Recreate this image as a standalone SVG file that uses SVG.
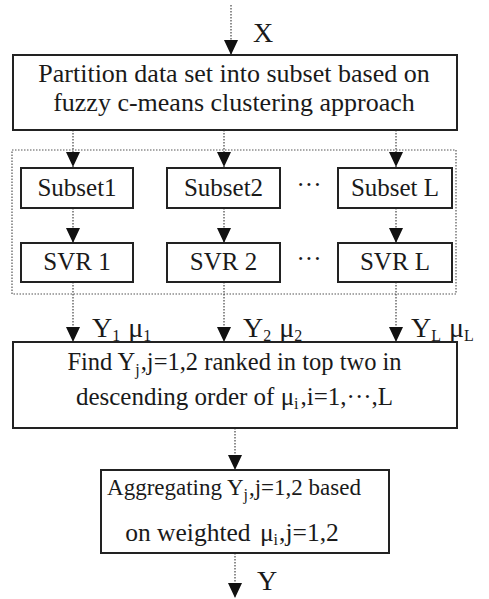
<svg xmlns="http://www.w3.org/2000/svg" width="489" height="599" viewBox="0 0 489 599">
  <style>
    .box { fill: #ffffff; stroke: #222222; stroke-width: 2; }
    .group { fill: none; stroke: #555555; stroke-width: 1.2; stroke-dasharray: 1.5 1.5; }
    .flow { fill: none; stroke: #444444; stroke-width: 1.2; stroke-dasharray: 1.5 1.5; }
    text { font-family: "Liberation Serif", "Times New Roman", serif; fill: #1a1a1a; }
    .t26 { font-size: 26px; }
    .t25 { font-size: 25px; }
    .lbl { font-size: 28px; }
    .sub { font-size: 16px; }
  </style>
  <defs>
    <marker id="arrow" viewBox="0 0 15 14" refX="15" refY="7" markerWidth="15" markerHeight="14" markerUnits="userSpaceOnUse" orient="auto">
      <path d="M0,0 L15,7 L0,14 z" fill="#111111"/>
    </marker>
  </defs>

  <!-- dotted frame around the subset / SVR stage -->
  <rect class="group" x="12" y="150" width="444" height="144"/>

  <!-- connectors -->
  <g id="connectors">
    <line class="flow" x1="231" y1="5" x2="231" y2="55" marker-end="url(#arrow)"/>
    <line class="flow" x1="73" y1="130" x2="73" y2="167" marker-end="url(#arrow)"/>
    <line class="flow" x1="224" y1="130" x2="224" y2="167" marker-end="url(#arrow)"/>
    <line class="flow" x1="396" y1="130" x2="396" y2="167" marker-end="url(#arrow)"/>
    <line class="flow" x1="73" y1="208" x2="73" y2="243" marker-end="url(#arrow)"/>
    <line class="flow" x1="224" y1="208" x2="224" y2="243" marker-end="url(#arrow)"/>
    <line class="flow" x1="396" y1="208" x2="396" y2="243" marker-end="url(#arrow)"/>
    <line class="flow" x1="73" y1="282" x2="73" y2="342" marker-end="url(#arrow)"/>
    <line class="flow" x1="224" y1="282" x2="224" y2="342" marker-end="url(#arrow)"/>
    <line class="flow" x1="396" y1="282" x2="396" y2="342" marker-end="url(#arrow)"/>
    <line class="flow" x1="235" y1="428" x2="235" y2="470" marker-end="url(#arrow)"/>
    <line class="flow" x1="235" y1="553" x2="235" y2="598" marker-end="url(#arrow)"/>
    <text class="lbl" x="253" y="42">X</text>
    <text class="lbl" x="92" y="337">Y<tspan class="sub" dy="4">1</tspan><tspan dx="8" dy="-4">μ</tspan><tspan class="sub" dy="4">1</tspan></text>
    <text class="lbl" x="243" y="337">Y<tspan class="sub" dy="4">2</tspan><tspan dx="8" dy="-4">μ</tspan><tspan class="sub" dy="4">2</tspan></text>
    <text class="lbl" x="411" y="337">Y<tspan class="sub" dy="4">L</tspan><tspan dx="8" dy="-4">μ</tspan><tspan class="sub" dy="4">L</tspan></text>
    <text class="lbl" x="257" y="590">Y</text>
  </g>

  <g id="partition">
    <rect class="box" x="13" y="55" width="444" height="75"/>
    <text class="t26" x="234" y="82" text-anchor="middle">Partition data set into subset based on</text>
    <text class="t26" x="234" y="111" text-anchor="middle">fuzzy c-means clustering approach</text>
  </g>

  <g id="subset1">
    <rect class="box" x="21" y="168" width="112" height="40"/>
    <text class="t25" x="77" y="196" text-anchor="middle">Subset1</text>
  </g>
  <g id="subset2">
    <rect class="box" x="167" y="168" width="113" height="40"/>
    <text class="t25" x="223.5" y="196" text-anchor="middle">Subset2</text>
  </g>
  <g id="subsetL">
    <rect class="box" x="338" y="168" width="114" height="40"/>
    <text class="t25" x="395" y="196" text-anchor="middle">Subset L</text>
  </g>
  <text class="t25" x="309" y="193" text-anchor="middle">···</text>

  <g id="svr1">
    <rect class="box" x="21" y="243" width="112" height="39"/>
    <text class="t25" x="77" y="270" text-anchor="middle">SVR 1</text>
  </g>
  <g id="svr2">
    <rect class="box" x="167" y="243" width="113" height="39"/>
    <text class="t25" x="223.5" y="270" text-anchor="middle">SVR 2</text>
  </g>
  <g id="svrL">
    <rect class="box" x="338" y="243" width="114" height="39"/>
    <text class="t25" x="395" y="270" text-anchor="middle">SVR L</text>
  </g>
  <text class="t25" x="309" y="267" text-anchor="middle">···</text>

  <g id="rank">
    <rect class="box" x="13" y="342" width="444" height="86"/>
    <text x="234.5" y="370" text-anchor="middle" font-size="24.5">Find Y<tspan class="sub" dy="5">j</tspan><tspan dx="1" dy="-5">,j=1,2 ranked in top two in</tspan></text>
    <text x="234.5" y="405" text-anchor="middle" font-size="25">descending order of μ<tspan class="sub" dy="4">i</tspan><tspan dx="2" dy="-4">,i=1,···,L</tspan></text>
  </g>

  <g id="aggregate">
    <rect class="box" x="101" y="470" width="288" height="83"/>
    <text x="234" y="495" text-anchor="middle" font-size="23">Aggregating Y<tspan class="sub" dy="5">j</tspan><tspan dx="1" dy="-5">,j=1,2 based</tspan></text>
    <text x="232" y="541" text-anchor="middle" font-size="25.5">on weighted <tspan dx="3">μ</tspan><tspan class="sub" dy="4">i</tspan><tspan dx="1" dy="-4">,j=1,2</tspan></text>
  </g>
</svg>
